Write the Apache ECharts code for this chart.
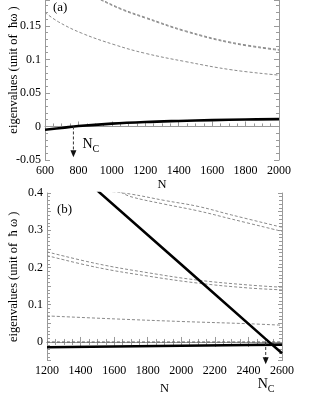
<!DOCTYPE html>
<html>
<head>
<meta charset="utf-8">
<script src="https://cdn.jsdelivr.net/npm/echarts@6/dist/echarts.min.js"></script>
<style>html,body{margin:0;padding:0;background:#fff}#c{width:315px;height:407px}</style>
</head>
<body>
<div id="c"></div>
<script>
// ---------- data: panel (a) ----------
const aN_thick = [600, 700, 800, 1000, 1200, 1400, 1600, 1800, 2000];
const a_thick = [-0.0048, -0.0022, 0.0006, 0.0042, 0.0066, 0.0082, 0.0095, 0.0104, 0.011];
const aN_low = [600, 680, 820, 1020, 1200, 1440, 1720, 2000];
const a_low = [0.170, 0.156, 0.139, 0.1215, 0.109, 0.0967, 0.0843, 0.0765];
const aN_up = [800, 930, 1060, 1200, 1440, 1720, 2000];
const a_up1 = [0.206, 0.189, 0.174, 0.1615, 0.1415, 0.124, 0.1135];
const a_up2 = [0.2072, 0.1902, 0.1752, 0.1627, 0.1427, 0.1252, 0.1147];
const aN_zero = [600, 2000];
const a_zero = [0, 0];
const aNc = 770;          // N_C in panel (a)
const aArrowEnd = -0.046; // arrow tip value

// ---------- data: panel (b) ----------
const bN_diag = [1500, 2000, 2500, 2600];
const b_diag = [0.4064, 0.208, 0.009, -0.0305];
const bN_flat = [1200, 1600, 2000, 2400, 2600];
const b_flat = [-0.014, -0.012, -0.010, -0.008, -0.007];
const bN_zero = [1200, 2600];
const b_zero = [0, 0];
const bN_low = [1200, 1600, 2000, 2400, 2600];
const b_low = [0.070, 0.062, 0.055, 0.049, 0.045];
const bN_mid = [1200, 1500, 1800, 2100, 2400, 2600];
const b_mid1 = [0.242, 0.210, 0.186, 0.166, 0.153, 0.147];
const b_mid2 = [0.232, 0.200, 0.177, 0.158, 0.145, 0.140];
const bN_up1 = [1560, 1700, 1900, 2100, 2300, 2600];
const b_up1 = [0.405, 0.397, 0.380, 0.364, 0.341, 0.308];
const bN_up2 = [1640, 1700, 1900, 2100, 2300, 2600];
const b_up2 = [0.402, 0.390, 0.370, 0.352, 0.330, 0.297];
const bNc = 2503;
const bArrowEnd = -0.06;

// ---------- axis ranges / ticks ----------
const aX = {min: 600, max: 2000, interval: 200};
const aY = {min: -0.05, max: 0.1885, interval: 0.05};
const bX = {min: 1200, max: 2600, interval: 200};
const bY = {min: -0.05, max: 0.4, interval: 0.05};

const FONT = '"Liberation Serif", "Times New Roman", serif';
const AXC = '#9a9a9a';
const zip = (xs, ys) => xs.map((x, i) => [x, ys[i]]);
const fmt = v => String(Math.round(v * 1000) / 1000);
const isMult = (v, step) => Math.abs(v / step - Math.round(v / step)) < 1e-6;

function axisCommon(r, extra) {
  return Object.assign({
    type: 'value', min: r.min, max: r.max, interval: r.interval,
    nameMoveOverlap: false,
    axisLine: {show: true, lineStyle: {color: AXC, width: 1}},
    axisTick: {show: true, inside: true, length: 5, lineStyle: {color: AXC}},
    minorTick: {show: true, splitNumber: 4, length: 3, lineStyle: {color: AXC}},
    splitLine: {show: false},
    axisLabel: {show: false}
  }, extra);
}

const labelStyle = {color: '#000', fontFamily: FONT, fontSize: 12};
const nameStyle = {color: '#000', fontFamily: FONT, fontSize: 12.5};

const dashed = (name, data, xi, yi, color) => ({
  type: 'line', name, data, xAxisIndex: xi, yAxisIndex: yi, smooth: 0.4,
  symbol: 'none', silent: true,
  lineStyle: {color: color || '#8a8a8a', width: 1, type: [3, 2]}
});
const thick = (name, data, xi, yi, smooth) => ({
  type: 'line', name, data, xAxisIndex: xi, yAxisIndex: yi, smooth: smooth,
  symbol: 'none', silent: true,
  lineStyle: {color: '#000', width: 2.6}
});

const option = {
  animation: false,
  backgroundColor: '#fff',
  grid: [
    {left: 45, right: 36, top: 0, bottom: 247, containLabel: false, outerBoundsMode: 'none'},
    {left: 47, right: 33, top: 193, bottom: 46.4, containLabel: false, outerBoundsMode: 'none'}
  ],
  xAxis: [
    axisCommon(aX, {gridIndex: 0, position: 'bottom',
      axisLabel: Object.assign({show: true, margin: 5, formatter: fmt}, labelStyle),
      name: 'N', nameLocation: 'middle', nameGap: 18, nameTextStyle: nameStyle}),
    axisCommon(aX, {gridIndex: 0, position: 'top', show: false}),
    axisCommon(bX, {gridIndex: 1, position: 'bottom',
      axisLabel: Object.assign({show: true, margin: 4, formatter: fmt}, labelStyle),
      name: 'N', nameLocation: 'middle', nameGap: 22, nameTextStyle: nameStyle}),
    axisCommon(bX, {gridIndex: 1, position: 'top'})
  ],
  yAxis: [
    axisCommon(aY, {gridIndex: 0, position: 'left',
      minorTick: {show: true, splitNumber: 5, length: 3, lineStyle: {color: AXC}},
      axisLabel: Object.assign({show: true, margin: 4, showMaxLabel: false,
        formatter: v => (isMult(v, 0.05) ? fmt(v) : '')}, labelStyle),
      name: 'eigenvalues (unit of  \u0127\u03c9 )', nameLocation: 'middle', nameGap: 25,
      nameTextStyle: Object.assign({padding: [0, 0, 0, 20]}, nameStyle)}),
    axisCommon(aY, {gridIndex: 0, position: 'right',
      minorTick: {show: true, splitNumber: 5, length: 3, lineStyle: {color: AXC}}}),
    axisCommon(bY, {gridIndex: 1, position: 'left',
      minorTick: {show: true, splitNumber: 5, length: 3, lineStyle: {color: AXC}},
      axisTick: {show: true, inside: true, length: 4, lineStyle: {color: AXC}},
      axisLabel: Object.assign({show: true, margin: 4,
        formatter: v => (isMult(v, 0.1) ? fmt(v) : '')}, labelStyle),
      name: 'eigenvalues (unit of  \u0127 \u03c9 )', nameLocation: 'middle', nameGap: 27,
      nameTextStyle: nameStyle}),
    axisCommon(bY, {gridIndex: 1, position: 'right',
      axisTick: {show: true, inside: true, length: 4, lineStyle: {color: AXC}},
      minorTick: {show: true, splitNumber: 5, length: 3, lineStyle: {color: AXC}}})
  ],
  series: [
    dashed('a0', zip(aN_zero, a_zero), 0, 0, '#9a9a9a'),
    dashed('a1', zip(aN_low, a_low), 0, 0),
    dashed('a2', zip(aN_up, a_up1), 0, 0),
    dashed('a3', zip(aN_up, a_up2), 0, 0),
    thick('a4', zip(aN_thick, a_thick), 0, 0, 0.4),
    Object.assign(dashed('b0', zip(bN_zero, b_zero), 2, 2), {
      lineStyle: {color: '#555', width: 1.2, type: [3, 2]}
    }),
    dashed('b1', zip(bN_low, b_low), 2, 2),
    dashed('b2', zip(bN_mid, b_mid1), 2, 2),
    dashed('b3', zip(bN_mid, b_mid2), 2, 2),
    dashed('b4', zip(bN_up1, b_up1), 2, 2),
    dashed('b5', zip(bN_up2, b_up2), 2, 2),
    thick('b6', zip(bN_flat, b_flat), 2, 2, false),
    thick('b7', zip(bN_diag, b_diag), 2, 2, false)
  ]
};

const chart = echarts.init(document.getElementById('c'), null, {renderer: 'canvas'});
chart.setOption(option);

// ---------- annotations placed through the axes ----------
function arrowGroup(gridIndex, n, yEnd) {
  const p0 = chart.convertToPixel({gridIndex}, [n, 0]);
  const p1 = chart.convertToPixel({gridIndex}, [n, yEnd]);
  return [
    {type: 'line', shape: {x1: p0[0], y1: p0[1], x2: p1[0], y2: p1[1] - 5},
     style: {stroke: '#333', lineWidth: 1, lineDash: [3, 2]}, silent: true, z: 10},
    {type: 'polygon', shape: {points: [[p1[0] - 3, p1[1] - 7], [p1[0] + 3, p1[1] - 7], [p1[0], p1[1]]]},
     style: {fill: '#111'}, silent: true, z: 10}
  ];
}
function ncText(gridIndex, n, y, dx) {
  const p = chart.convertToPixel({gridIndex}, [n, y]);
  return [
    {type: 'text', x: p[0] + dx, y: p[1], silent: true, z: 10,
     style: {text: 'N', font: '14px ' + FONT, fill: '#000', textVerticalAlign: 'middle'}},
    {type: 'text', x: p[0] + dx + 10, y: p[1] + 5, silent: true, z: 10,
     style: {text: 'C', font: '10px ' + FONT, fill: '#000', textVerticalAlign: 'middle'}}
  ];
}
chart.setOption({
  graphic: [].concat(
    arrowGroup(0, aNc, aArrowEnd),
    ncText(0, aNc, -0.027, 9),
    arrowGroup(1, bNc, bArrowEnd),
    ncText(1, bNc, -0.115, -8),
    [
      {type: 'text', left: 53, top: 1, style: {text: '(a)', font: '13px ' + FONT, fill: '#000'}},
      {type: 'text', left: 57, top: 203, style: {text: '(b)', font: '13px ' + FONT, fill: '#000'}}
    ]
  )
});
</script>
</body>
</html>
